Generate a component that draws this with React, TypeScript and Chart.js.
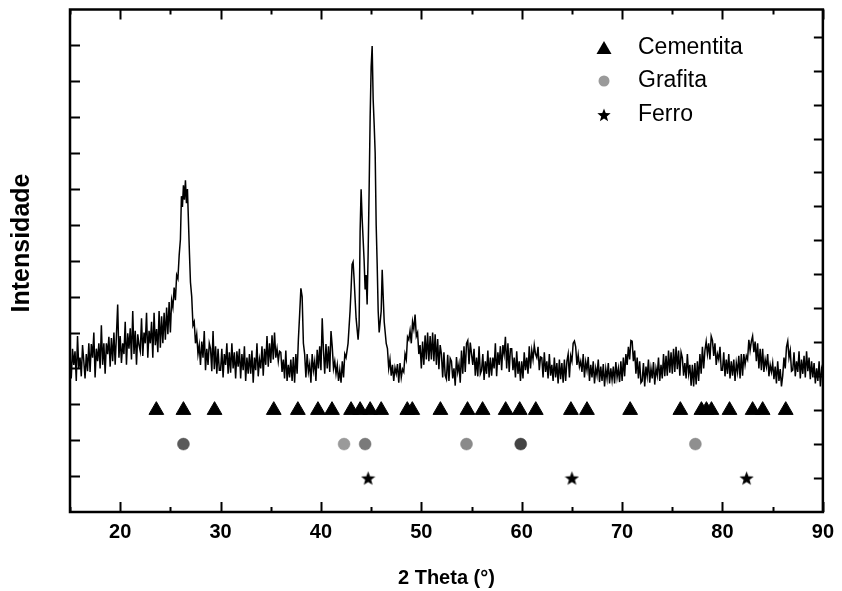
import React, { useEffect, useRef } from "react";
import { Chart, registerables } from "chart.js";

Chart.register(...registerables);

const FONT = "'Liberation Sans', Arial, Helvetica, sans-serif";

// XRD pattern: 2θ (degrees)
const twoTheta = [
  15.0, 15.125, 15.25, 15.375, 15.5, 15.625, 15.75, 15.875,
  16.0, 16.125, 16.25, 16.375, 16.5, 16.625, 16.75, 16.875,
  17.0, 17.125, 17.25, 17.375, 17.5, 17.625, 17.75, 17.875,
  18.0, 18.125, 18.25, 18.375, 18.5, 18.625, 18.75, 18.875,
  19.0, 19.125, 19.25, 19.375, 19.5, 19.625, 19.75, 19.875,
  20.0, 20.125, 20.25, 20.375, 20.5, 20.625, 20.75, 20.875,
  21.0, 21.125, 21.25, 21.375, 21.5, 21.625, 21.75, 21.875,
  22.0, 22.125, 22.25, 22.375, 22.5, 22.625, 22.75, 22.875,
  23.0, 23.125, 23.25, 23.375, 23.5, 23.625, 23.75, 23.875,
  24.0, 24.125, 24.25, 24.375, 24.5, 24.625, 24.75, 24.875,
  25.0, 25.125, 25.25, 25.375, 25.5, 25.625, 25.75, 25.875,
  26.0, 26.1, 26.2, 26.3, 26.4, 26.5, 26.6, 26.7, 26.8, 26.9,
  27.0, 27.125, 27.25, 27.375, 27.5, 27.625, 27.75, 27.875,
  28.0, 28.125, 28.25, 28.375, 28.5, 28.625, 28.75, 28.875,
  29.0, 29.125, 29.25, 29.375, 29.5, 29.625, 29.75, 29.875,
  30.0, 30.125, 30.25, 30.375, 30.5, 30.625, 30.75, 30.875,
  31.0, 31.125, 31.25, 31.375, 31.5, 31.625, 31.75, 31.875,
  32.0, 32.125, 32.25, 32.375, 32.5, 32.625, 32.75, 32.875,
  33.0, 33.125, 33.25, 33.375, 33.5, 33.625, 33.75, 33.875,
  34.0, 34.125, 34.25, 34.375, 34.5, 34.625, 34.75, 34.875,
  35.0, 35.125, 35.25, 35.375, 35.5, 35.625, 35.75, 35.875,
  36.0, 36.125, 36.25, 36.375, 36.5, 36.625, 36.75, 36.875,
  37.0, 37.125, 37.25, 37.375, 37.5, 37.625, 37.75, 37.875,
  38.0, 38.125, 38.25, 38.375, 38.5, 38.625, 38.75, 38.875,
  39.0, 39.125, 39.25, 39.375, 39.5, 39.625, 39.75, 39.875,
  40.0, 40.125, 40.25, 40.375, 40.5, 40.625, 40.75, 40.875,
  41.0, 41.125, 41.25, 41.375, 41.5, 41.625, 41.75, 41.875,
  42.0, 42.125, 42.25, 42.375,
  42.5, 42.7, 42.9, 43.0, 43.1, 43.2, 43.3, 43.5, 43.7, 43.8,
  43.9, 44.0, 44.1, 44.2, 44.3, 44.4, 44.5, 44.6, 44.7, 44.8,
  44.9, 45.0, 45.1, 45.2, 45.3, 45.4, 45.5, 45.6, 45.7, 45.8,
  46.0, 46.1, 46.2, 46.3, 46.5,
  46.625, 46.75, 46.875,
  47.0, 47.125, 47.25, 47.375, 47.5, 47.625, 47.75, 47.875,
  48.0, 48.125, 48.25, 48.375, 48.5, 48.625, 48.75, 48.875,
  49.0, 49.125, 49.25, 49.375, 49.5, 49.625, 49.75, 49.875,
  50.0, 50.125, 50.25, 50.375, 50.5, 50.625, 50.75, 50.875,
  51.0, 51.125, 51.25, 51.375, 51.5, 51.625, 51.75, 51.875,
  52.0, 52.125, 52.25, 52.375, 52.5, 52.625, 52.75, 52.875,
  53.0, 53.125, 53.25, 53.375, 53.5, 53.625, 53.75, 53.875,
  54.0, 54.125, 54.25, 54.375, 54.5, 54.625, 54.75, 54.875,
  55.0, 55.125, 55.25, 55.375, 55.5, 55.625, 55.75, 55.875,
  56.0, 56.125, 56.25, 56.375, 56.5, 56.625, 56.75, 56.875,
  57.0, 57.125, 57.25, 57.375, 57.5, 57.625, 57.75, 57.875,
  58.0, 58.125, 58.25, 58.375, 58.5, 58.625, 58.75, 58.875,
  59.0, 59.125, 59.25, 59.375, 59.5, 59.625, 59.75, 59.875,
  60.0, 60.125, 60.25, 60.375, 60.5, 60.625, 60.75, 60.875,
  61.0, 61.125, 61.25, 61.375, 61.5, 61.625, 61.75, 61.875,
  62.0, 62.125, 62.25, 62.375, 62.5, 62.625, 62.75, 62.875,
  63.0, 63.125, 63.25, 63.375, 63.5, 63.625, 63.75, 63.875,
  64.0, 64.125, 64.25, 64.375, 64.5, 64.625, 64.75, 64.875,
  65.0, 65.125, 65.25, 65.375, 65.5, 65.625, 65.75, 65.875,
  66.0, 66.125, 66.25, 66.375, 66.5, 66.625, 66.75, 66.875,
  67.0, 67.125, 67.25, 67.375, 67.5, 67.625, 67.75, 67.875,
  68.0, 68.125, 68.25, 68.375, 68.5, 68.625, 68.75, 68.875,
  69.0, 69.125, 69.25, 69.375, 69.5, 69.625, 69.75, 69.875,
  70.0, 70.125, 70.25, 70.375, 70.5, 70.625, 70.75, 70.875,
  71.0, 71.125, 71.25, 71.375, 71.5, 71.625, 71.75, 71.875,
  72.0, 72.125, 72.25, 72.375, 72.5, 72.625, 72.75, 72.875,
  73.0, 73.125, 73.25, 73.375, 73.5, 73.625, 73.75, 73.875,
  74.0, 74.125, 74.25, 74.375, 74.5, 74.625, 74.75, 74.875,
  75.0, 75.125, 75.25, 75.375, 75.5, 75.625, 75.75, 75.875,
  76.0, 76.125, 76.25, 76.375, 76.5, 76.625, 76.75, 76.875,
  77.0, 77.125, 77.25, 77.375, 77.5, 77.625, 77.75, 77.875,
  78.0, 78.125, 78.25, 78.375, 78.5, 78.625, 78.75, 78.875,
  79.0, 79.125, 79.25, 79.375, 79.5, 79.625, 79.75, 79.875,
  80.0, 80.125, 80.25, 80.375, 80.5, 80.625, 80.75, 80.875,
  81.0, 81.125, 81.25, 81.375, 81.5, 81.625, 81.75, 81.875,
  82.0, 82.125, 82.25, 82.375, 82.5, 82.625, 82.75, 82.875,
  83.0, 83.125, 83.25, 83.375, 83.5, 83.625, 83.75, 83.875,
  84.0, 84.125, 84.25, 84.375, 84.5, 84.625, 84.75, 84.875,
  85.0, 85.125, 85.25, 85.375, 85.5, 85.625, 85.75, 85.875,
  86.0, 86.125, 86.25, 86.375, 86.5, 86.625, 86.75, 86.875,
  87.0, 87.125, 87.25, 87.375, 87.5, 87.625, 87.75, 87.875,
  88.0, 88.125, 88.25, 88.375, 88.5, 88.625, 88.75, 88.875,
  89.0, 89.125, 89.25, 89.375, 89.5, 89.625, 89.75, 89.875,
  90.0,
];

// Intensity (a.u.), one value per 2θ above
const intensity = [
  440, 372, 455, 410, 448, 365, 490, 400,
  430, 378, 465, 420, 372, 440, 392, 470,
  390, 468, 430, 500, 375, 455, 420, 470,
  400, 520, 410, 470, 385, 470, 440, 488,
  405, 485, 420, 500, 410, 492, 578, 430,
  490, 415, 470, 440, 530, 410, 498, 455,
  512, 425, 560, 440, 505, 410, 495, 465,
  448, 540, 435, 500, 470, 555, 430, 505,
  470, 530, 430, 555, 465, 510, 445, 560,
  458, 545, 470, 555, 480, 570, 495, 585,
  500, 590, 570, 625, 590, 660, 650, 715,
  760, 880, 850, 910, 870, 924, 860, 900, 810, 720,
  640, 600, 520, 530, 470, 495, 440, 465,
  410, 475, 430, 504, 395, 455, 410, 470,
  455, 392, 504, 398, 462, 385, 455, 395,
  395, 455, 375, 440, 410, 470, 385, 445,
  388, 470, 400, 445, 372, 448, 405, 455,
  372, 440, 395, 462, 365, 430, 385, 440,
  385, 450, 360, 430, 395, 470, 378, 425,
  400, 462, 380, 455, 410, 490, 405, 470,
  415, 492, 425, 500, 430, 455, 420, 448,
  445, 390, 425, 372, 450, 365, 410, 375,
  425, 365, 432, 360, 440, 385, 480, 550,
  623, 600, 470, 440, 375, 440, 390, 412,
  360, 440, 395, 420, 365, 452, 400, 462,
  395, 540, 450, 385, 468, 400, 462, 390,
  504, 460, 400, 420, 385, 410, 365, 395,
  360, 420, 375, 440,
  430, 470, 560, 620, 690, 697, 650, 540, 480, 520,
  780, 899, 820, 760, 700, 620, 660, 578, 720, 900,
  1100, 1240, 1298, 1150, 1080, 1000, 800, 690, 560, 500,
  560, 675, 600, 530, 470,
  455, 400, 425,
  380, 410, 365, 402, 385, 412, 360, 415,
  375, 398, 390, 440, 425, 488, 480, 505,
  470, 530, 510, 550, 490, 500, 440, 465,
  400, 475, 410, 492, 425, 500, 420, 490,
  425, 500, 420, 495, 410, 482, 398, 465,
  440, 375, 445, 380, 370, 438, 365, 428,
  420, 372, 400, 352, 432, 390, 412, 360,
  450, 385, 462, 390, 470, 478, 412, 472,
  440, 410, 455, 380, 430, 378, 462, 385,
  395, 440, 368, 420, 385, 450, 375, 430,
  380, 430, 400, 470, 378, 445, 410, 462,
  395, 465, 440, 488, 400, 470, 390, 455,
  455, 395, 430, 375, 448, 385, 420, 365,
  420, 372, 445, 395, 430, 385, 462, 400,
  450, 425, 465, 440, 430, 460, 395, 432,
  430, 375, 445, 390, 420, 372, 440, 380,
  410, 365, 430, 375, 415, 358, 425, 370,
  415, 360, 425, 365, 420, 440, 375, 435,
  420, 470, 476, 460, 410, 438, 405, 420,
  390, 440, 375, 418, 395, 432, 365, 410,
  375, 420, 358, 400, 380, 425, 362, 405,
  365, 412, 350, 398, 372, 415, 358, 400,
  368, 405, 358, 418, 375, 400, 362, 420,
  365, 430, 378, 440, 410, 460, 425, 478,
  476, 420, 450, 385, 430, 372, 420, 360,
  365, 415, 350, 405, 378, 425, 360, 400,
  372, 418, 355, 400, 380, 430, 365, 410,
  372, 440, 378, 435, 380, 450, 388, 445,
  385, 455, 390, 460, 398, 450, 380, 445,
  430, 380, 415, 372, 440, 385, 410, 352,
  410, 350, 415, 355, 420, 365, 440, 385,
  460, 400, 450, 475, 440, 470, 425, 490,
  478, 435, 470, 410, 440, 425, 460, 395,
  395, 445, 378, 425, 385, 440, 372, 420,
  380, 425, 365, 415, 390, 435, 372, 440,
  380, 440, 410, 435, 425, 480, 450, 475,
  490, 445, 475, 420, 470, 400, 455, 395,
  455, 390, 425, 405, 440, 378, 410, 390,
  415, 370, 405, 358, 420, 365, 398, 350,
  380, 430, 400, 460, 476, 430, 450, 392,
  395, 445, 378, 420, 390, 448, 372, 425,
  385, 435, 375, 448, 392, 430, 370, 420,
  375, 415, 358, 400, 365, 420, 350, 398,
  382,
];

// Reference peak positions (2θ)
const cementitaPeaks = [
  23.6, 26.3, 29.4, 35.3, 37.7, 39.7, 41.1, 43.0, 43.9, 44.9,
  46.0, 48.6, 49.1, 51.9, 54.6, 56.1, 58.4, 59.8, 61.4, 64.9,
  66.5, 70.8, 75.8, 77.9, 78.4, 78.9, 80.7, 83.0, 84.0, 86.3,
];
const grafitaPeaks = [26.3, 42.3, 44.4, 54.5, 59.9, 77.3];
const grafitaColors = ["#5a5a5a", "#9a9a9a", "#7a7a7a", "#8a8a8a", "#444444", "#8f8f8f"];
const ferroPeaks = [44.7, 65.0, 82.4];

// Marker rows on the right-hand (index) axis
const cementitaRow = 3;
const grafitaRow = 2;
const ferroRow = 1;

// Axis ticks
const xMin = 15;
const xMax = 90;
const xLabelTicks = [20, 30, 40, 50, 60, 70, 80, 90];
const xAllTicks = [15, 20, 25, 30, 35, 40, 45, 50, 55, 60, 65, 70, 75, 80, 85, 90];
const yMax = 1400;
const yLeftTicks = [100, 200, 300, 400, 500, 600, 700, 800, 900, 1000, 1100, 1200, 1300];
const y2Max = 14.8;
const yRightTicks = [1, 2, 3, 4, 5, 6, 7, 8, 9, 10, 11, 12, 13, 14];

const legendItems = ["Cementita", "Grafita", "Ferro"];
const yTitle = "Intensidade";
const xTitle = "2 Theta (°)";

function starPath(ctx: CanvasRenderingContext2D, cx: number, cy: number, R: number) {
  const r = R * 0.42;
  ctx.beginPath();
  for (let i = 0; i < 10; i++) {
    const rad = i % 2 === 0 ? R : r;
    const a = -Math.PI / 2 + (i * Math.PI) / 5;
    const px = cx + rad * Math.cos(a);
    const py = cy + rad * Math.sin(a);
    if (i === 0) ctx.moveTo(px, py);
    else ctx.lineTo(px, py);
  }
  ctx.closePath();
}

function makeStar(size: number): HTMLCanvasElement {
  const c = document.createElement("canvas");
  c.width = size;
  c.height = size;
  const g = c.getContext("2d")!;
  g.fillStyle = "#000";
  starPath(g, size / 2, size / 2 + 0.8, size / 2);
  g.fill();
  return c;
}

const framePlugin = {
  id: "framePlugin",
  afterDraw(chart: any) {
    const { ctx, chartArea: a, scales } = chart;
    const x = scales.x;
    const y = scales.y;
    const y2 = scales.y2;
    ctx.save();
    ctx.strokeStyle = "#000";
    ctx.lineWidth = 2.5;
    ctx.strokeRect(a.left, a.top, a.right - a.left, a.bottom - a.top);
    ctx.lineWidth = 2;
    ctx.beginPath();
    for (const v of xAllTicks) {
      const px = Math.round(x.getPixelForValue(v)) + 0.5;
      const len = v % 10 === 0 ? 10 : 5;
      ctx.moveTo(px, a.bottom);
      ctx.lineTo(px, a.bottom - len);
      ctx.moveTo(px, a.top);
      ctx.lineTo(px, a.top + len);
    }
    for (const v of yLeftTicks) {
      const py = Math.round(y.getPixelForValue(v)) + 0.5;
      ctx.moveTo(a.left, py);
      ctx.lineTo(a.left + 10, py);
    }
    for (const v of yRightTicks) {
      const py = Math.round(y2.getPixelForValue(v)) + 0.5;
      ctx.moveTo(a.right, py);
      ctx.lineTo(a.right - 9, py);
    }
    ctx.stroke();

    // Y title (rotated)
    ctx.save();
    ctx.translate(22, 243);
    ctx.rotate(-Math.PI / 2);
    ctx.font = `bold 25px ${FONT}`;
    ctx.textAlign = "center";
    ctx.textBaseline = "middle";
    ctx.fillStyle = "#000";
    ctx.fillText(yTitle, 0, 0);
    ctx.restore();

    // Legend
    const lx = 604;
    const tx = 638;
    const rows = [48, 81, 115];
    ctx.fillStyle = "#000";
    ctx.beginPath();
    ctx.moveTo(lx, rows[0] - 7);
    ctx.lineTo(lx + 7.5, rows[0] + 6);
    ctx.lineTo(lx - 7.5, rows[0] + 6);
    ctx.closePath();
    ctx.fill();
    ctx.fillStyle = "#9a9a9a";
    ctx.beginPath();
    ctx.arc(lx, rows[1], 5.5, 0, Math.PI * 2);
    ctx.fill();
    ctx.fillStyle = "#000";
    starPath(ctx, lx, rows[2] + 0.5, 7);
    ctx.fill();

    ctx.font = `23px ${FONT}`;
    ctx.textBaseline = "middle";
    ctx.textAlign = "left";
    legendItems.forEach((t, i) => ctx.fillText(t, tx, rows[i]));
    ctx.restore();
  },
};

export default function App() {
  const ref = useRef<HTMLCanvasElement>(null);

  useEffect(() => {
    const canvas = ref.current;
    if (!canvas) return;
    const star = makeStar(15);
    const chart = new Chart(canvas, {
      type: "scatter",
      data: {
        datasets: [
          {
            label: "XRD",
            data: twoTheta.map((t, i) => ({ x: t, y: intensity[i] })),
            showLine: true,
            borderColor: "#000",
            borderWidth: 1.5,
            pointRadius: 0,
            tension: 0,
            yAxisID: "y",
          },
          {
            label: "Cementita",
            data: cementitaPeaks.map((t) => ({ x: t, y: cementitaRow })),
            pointStyle: "triangle",
            pointRadius: 8.5,
            backgroundColor: "#000",
            borderColor: "#000",
            borderWidth: 1,
            yAxisID: "y2",
          },
          {
            label: "Grafita",
            data: grafitaPeaks.map((t) => ({ x: t, y: grafitaRow })),
            pointStyle: "circle",
            pointRadius: 6,
            backgroundColor: grafitaColors,
            borderColor: grafitaColors,
            borderWidth: 0.5,
            yAxisID: "y2",
          },
          {
            label: "Ferro",
            data: ferroPeaks.map((t) => ({ x: t, y: ferroRow })),
            pointStyle: star as any,
            pointRadius: 7,
            yAxisID: "y2",
          },
        ],
      },
      options: {
        animation: false,
        responsive: false,
        devicePixelRatio: 1,
        layout: { padding: { top: 6, left: 0, right: 0, bottom: 0 } },
        plugins: {
          legend: { display: false },
          tooltip: { enabled: false },
        },
        scales: {
          x: {
            type: "linear",
            position: "bottom",
            min: xMin,
            max: xMax,
            grid: { display: false, drawTicks: false },
            border: { display: false },
            afterBuildTicks: (s: any) => {
              s.ticks = xLabelTicks.map((v) => ({ value: v }));
            },
            afterFit: (s: any) => {
              s.height = 79;
            },
            ticks: {
              color: "#000",
              padding: 8,
              maxRotation: 0,
              autoSkip: false,
              font: { family: FONT, size: 20, weight: "bold" },
            },
            title: {
              display: true,
              text: xTitle,
              color: "#000",
              font: { family: FONT, size: 20, weight: "bold" },
              padding: { top: 0, bottom: 1 },
            },
          },
          y: {
            type: "linear",
            position: "left",
            min: 0,
            max: yMax,
            grid: { display: false, drawTicks: false },
            border: { display: false },
            ticks: { display: false },
            afterFit: (s: any) => {
              s.width = 70;
            },
          },
          y2: {
            type: "linear",
            position: "right",
            min: 0,
            max: y2Max,
            grid: { display: false, drawTicks: false },
            border: { display: false },
            ticks: { display: false },
            afterFit: (s: any) => {
              s.width = 16;
            },
          },
        },
      } as any,
      plugins: [framePlugin],
    });
    return () => chart.destroy();
  }, []);

  return (
    <div style={{ position: "fixed", left: 0, top: 0, width: 842, height: 591, background: "#fff" }}>
      <canvas ref={ref} width={842} height={591} style={{ width: 842, height: 591, display: "block" }} />
    </div>
  );
}
